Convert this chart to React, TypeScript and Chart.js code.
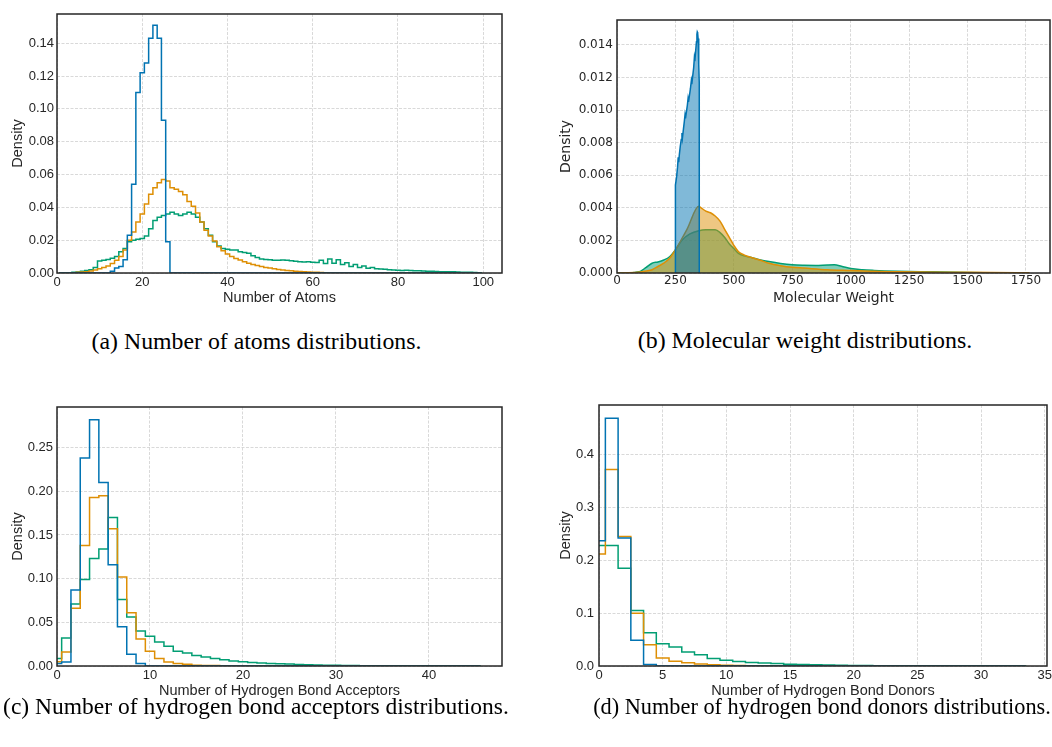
import React, { useEffect, useRef } from 'react';
import { Chart, registerables } from 'chart.js';

Chart.register(...registerables);

const BLUE = '#0173b2';
const ORANGE = '#de8f05';
const GREEN = '#029e73';
const TEXT = '#262626';

// ---------------- (a) Number of atoms (density, 1-atom bins centred on integers)
const ATOMS_RANGE = [0.5, 99.5];
const ATOMS_BLUE_FIRST = 13;
const ATOMS_BLUE = [0.001, 0.003, 0.004, 0.008, 0.023, 0.054, 0.11, 0.122, 0.128, 0.143, 0.151, 0.143, 0.093, 0.019];
const ATOMS_ORANGE_FIRST = 5;
const ATOMS_ORANGE = [
  0.0004, 0.0006, 0.0008, 0.0012, 0.0018, 0.0026, 0.0033, 0.0043, 0.0058, 0.0078, 0.01, 0.014,
  0.02, 0.025, 0.031, 0.036, 0.042, 0.048, 0.052, 0.055, 0.057, 0.056, 0.052, 0.051, 0.0497,
  0.0477, 0.0436, 0.0406, 0.0365, 0.031, 0.026, 0.0225, 0.0195, 0.016, 0.0135, 0.0115, 0.01,
  0.0088, 0.0079, 0.0068, 0.006, 0.0052, 0.0046, 0.004, 0.0034, 0.003, 0.0026, 0.0022, 0.0019,
  0.0015, 0.0013, 0.0011, 0.0009, 0.0008, 0.0006, 0.0005, 0.0004, 0.0003, 0.0002,
];
const ATOMS_GREEN_FIRST = 4;
const ATOMS_GREEN = [
  0.0004, 0.0006, 0.001, 0.0015, 0.002, 0.0034, 0.0073, 0.0078, 0.0082, 0.009, 0.01, 0.013, 0.015,
  0.019, 0.02, 0.0205, 0.021, 0.0225, 0.027, 0.032, 0.034, 0.035, 0.036, 0.037, 0.036, 0.035,
  0.036, 0.037, 0.036, 0.034, 0.031, 0.027, 0.023, 0.019, 0.0165, 0.015, 0.0145, 0.014, 0.014,
  0.013, 0.0125, 0.012, 0.0105, 0.0095, 0.0085, 0.0082, 0.008, 0.0077, 0.0078, 0.0079, 0.0077,
  0.0074, 0.0071, 0.0069, 0.0067, 0.0068, 0.0066, 0.0064, 0.0078, 0.0058, 0.0085, 0.006, 0.008,
  0.0052, 0.0062, 0.004, 0.0052, 0.0034, 0.0042, 0.0029, 0.0033, 0.0026, 0.0025, 0.0023, 0.002,
  0.0018, 0.0016, 0.0015, 0.0016, 0.0015, 0.0014, 0.0014, 0.0012, 0.0011, 0.001, 0.0009, 0.0008,
  0.0008, 0.0007, 0.0007, 0.0006, 0.0005, 0.0005, 0.0004, 0.0003, 0.0002,
];
const ATOMS_X_TICKS = [0, 20, 40, 60, 80, 100];
const ATOMS_Y_TICKS = [0, 0.02, 0.04, 0.06, 0.08, 0.1, 0.12, 0.14];

// ---------------- (b) Molecular weight (KDE)
const MW_BLUE_X = [249, 249, 251, 255, 259, 262, 264, 267, 271, 275, 278, 280, 284, 288, 291, 293, 297, 301, 304, 306, 310, 314, 318, 320, 324, 328, 331, 333, 337, 340, 342, 343.5, 345, 347, 349, 350.5, 352, 352];
const MW_BLUE_Y = [0, 0.005, 0.0054, 0.0059, 0.0065, 0.0071, 0.0068, 0.0073, 0.0078, 0.0082, 0.0086, 0.0083, 0.0088, 0.0093, 0.0097, 0.0095, 0.0099, 0.0103, 0.0107, 0.0105, 0.0109, 0.0113, 0.0118, 0.0116, 0.0121, 0.0126, 0.0132, 0.013, 0.0137, 0.0142, 0.01465, 0.0148, 0.01475, 0.0144, 0.0137, 0.0128, 0.0117, 0];
const MW_ORANGE_X = [0, 50, 100, 125, 150, 175, 200, 225, 249, 300, 350, 360, 380, 400, 420, 440, 460, 480, 500, 520, 545, 575, 610, 650, 700, 750, 800, 900, 1000, 1100, 1200, 1400, 1600, 1765];
const MW_ORANGE_Y = [0, 0.00001, 0.00006, 0.00012, 0.0002, 0.0004, 0.0006, 0.0009, 0.0014, 0.0027, 0.0041, 0.004, 0.0038, 0.0037, 0.0035, 0.0032, 0.0027, 0.0022, 0.0017, 0.0013, 0.0011, 0.00095, 0.0008, 0.0006, 0.00045, 0.00035, 0.0003, 0.0002, 0.00015, 0.0001, 0.00008, 0.00005, 0.00003, 0.00001];
const MW_GREEN_X = [0, 60, 80, 100, 125, 150, 175, 200, 225, 249, 277, 312, 350, 380, 420, 440, 460, 480, 500, 520, 545, 575, 610, 650, 700, 750, 800, 850, 900, 930, 960, 1000, 1050, 1100, 1200, 1300, 1400, 1500, 1600];
const MW_GREEN_Y = [0, 0, 0.00005, 0.0001, 0.00035, 0.0006, 0.00068, 0.0008, 0.001, 0.0014, 0.002, 0.0024, 0.0026, 0.00265, 0.00265, 0.0025, 0.0022, 0.0018, 0.0015, 0.0012, 0.00105, 0.00095, 0.00082, 0.0007, 0.00058, 0.0005, 0.00047, 0.00046, 0.00049, 0.0005, 0.00042, 0.00028, 0.0002, 0.00016, 0.00011, 0.00008, 0.00006, 0.00003, 0.00001];
const MW_X_TICKS = [0, 250, 500, 750, 1000, 1250, 1500, 1750];
const MW_Y_TICKS = [0, 0.002, 0.004, 0.006, 0.008, 0.01, 0.012, 0.014];

// ---------------- (c) Hydrogen bond acceptors (bins centred on integers, first bin = 0)
const HBA_RANGE = [-0.5, 45.5];
const HBA_BLUE = [0.003, 0.0046, 0.087, 0.238, 0.282, 0.21, 0.116, 0.045, 0.0134, 0.003];
const HBA_ORANGE = [0.005, 0.016, 0.066, 0.138, 0.193, 0.195, 0.157, 0.102, 0.061, 0.031, 0.017, 0.0085, 0.0046, 0.003, 0.002, 0.001, 0.0006, 0.0005, 0.0004];
const HBA_GREEN = [
  0.0085, 0.032, 0.071, 0.099, 0.123, 0.134, 0.17, 0.076, 0.056, 0.04, 0.034, 0.0275, 0.0225, 0.017,
  0.015, 0.012, 0.0103, 0.0085, 0.0072, 0.0057, 0.0048, 0.004, 0.0035, 0.003, 0.0026, 0.0022, 0.0018,
  0.0015, 0.0012, 0.001, 0.0008, 0.0006, 0.0005, 0.0004, 0.0003, 0.0003, 0.0002, 0.0002, 0.0001,
  0.0001, 0.0001, 0.0001, 0.00005, 0.00005, 0.00005, 0.00005,
];
const HBA_X_TICKS = [0, 10, 20, 30, 40];
const HBA_Y_TICKS = [0, 0.05, 0.1, 0.15, 0.2, 0.25];

// ---------------- (d) Hydrogen bond donors
const HBD_RANGE = [-0.5, 33.5];
const HBD_BLUE = [0.237, 0.469, 0.242, 0.0486, 0.003];
const HBD_ORANGE = [0.212, 0.372, 0.245, 0.1, 0.04, 0.015, 0.0088, 0.006, 0.004, 0.0025, 0.0015, 0.001, 0.0007, 0.0005, 0.0003, 0.0002, 0.0001];
const HBD_GREEN = [
  0.228, 0.228, 0.185, 0.105, 0.063, 0.042, 0.036, 0.0265, 0.0215, 0.014, 0.0108, 0.0085, 0.0065,
  0.0055, 0.0045, 0.0035, 0.003, 0.0023, 0.0018, 0.0014, 0.0011, 0.0009, 0.0007, 0.0006, 0.0005,
  0.0004, 0.0003, 0.0003, 0.0002, 0.0002, 0.0001, 0.0001, 0.0001, 0.0001,
];
const HBD_X_TICKS = [0, 5, 10, 15, 20, 25, 30, 35];
const HBD_Y_TICKS = [0, 0.1, 0.2, 0.3, 0.4];

const CAPTIONS = [
  { text: '(a) Number of atoms distributions.', cx: 256.5, baseline: 349.5, size: 23.8 },
  { text: '(b) Molecular weight distributions.', cx: 805, baseline: 349.5, size: 23.9 },
  { text: '(c) Number of hydrogen bond acceptors distributions.', cx: 256, baseline: 714.5, size: 23.5 },
  { text: '(d) Number of hydrogen bond donors distributions.', cx: 822, baseline: 714.5, size: 22.3 },
];

type Pt = { x: number; y: number };

function stepOutline(first: number, values: number[], range: number[]): Pt[] {
  const e0 = first - 0.5;
  const pts: Pt[] = [{ x: range[0], y: 0 }, { x: e0, y: 0 }];
  values.forEach((v, i) => {
    pts.push({ x: e0 + i, y: v }, { x: e0 + i + 1, y: v });
  });
  pts.push({ x: e0 + values.length, y: 0 }, { x: range[1], y: 0 });
  return pts;
}

function zipPts(xs: number[], ys: number[]): Pt[] {
  return xs.map((x, i) => ({ x, y: ys[i] }));
}

function histSet(data: Pt[], color: string) {
  return { data, borderColor: color, borderWidth: 1.5, pointRadius: 0, fill: false, tension: 0 };
}

function kdeSet(data: Pt[], color: string, fillColor: string, smooth: boolean) {
  return {
    data,
    borderColor: color,
    borderWidth: 1.5,
    pointRadius: 0,
    fill: 'origin',
    backgroundColor: fillColor,
    tension: smooth ? 0.4 : 0,
    cubicInterpolationMode: smooth ? 'monotone' : 'default',
  };
}

type Geo = {
  left: number; top: number; w: number; h: number;
  L: number; T: number; R: number; B: number;
  yTitleX: number; xTitleY: number;
  tickPadX: number; tickPadY: number;
};

type AxisSpec = { min: number; max: number; ticks: number[]; decimals: number; title: string };

const framePlugin = {
  id: 'frame',
  afterDraw(chart: any) {
    const { ctx, chartArea: a } = chart;
    ctx.save();
    ctx.strokeStyle = TEXT;
    ctx.lineWidth = 1.5;
    ctx.strokeRect(a.left, a.top, a.right - a.left, a.bottom - a.top);
    ctx.restore();
  },
};

function buildScale(ax: AxisSpec, horizontal: boolean, size: number, family: string, tickSize: number,
  titleSize: number, tickPad: number, titlePad: number) {
  return {
    type: 'linear',
    min: ax.min,
    max: ax.max,
    afterBuildTicks: (scale: any) => {
      scale.ticks = ax.ticks.map((v) => ({ value: v }));
    },
    afterFit: (scale: any) => {
      if (horizontal) scale.height = size;
      else scale.width = size;
      scale.paddingLeft = 0;
      scale.paddingRight = 0;
      scale.paddingTop = 0;
      scale.paddingBottom = 0;
    },
    ticks: {
      autoSkip: false,
      maxRotation: 0,
      minRotation: 0,
      padding: tickPad,
      color: TEXT,
      font: { family, size: tickSize, lineHeight: 1.2 },
      callback: (v: any) => Number(v).toFixed(ax.decimals),
    },
    grid: { color: '#cfcfcf', lineWidth: 0.8, drawTicks: false },
    border: { display: false, dash: [3, 1.5] },
    title: {
      display: true,
      text: ax.title,
      color: TEXT,
      font: { family, size: titleSize, lineHeight: 1.2 },
      padding: horizontal ? { top: 0, bottom: titlePad } : { top: titlePad, bottom: 0 },
    },
  };
}

function Panel(props: { geo: Geo; datasets: any[]; x: AxisSpec; y: AxisSpec; family: string; tickSize: number; titleSize: number }) {
  const ref = useRef<HTMLCanvasElement>(null);
  useEffect(() => {
    const { geo, datasets, x, y, family, tickSize, titleSize } = props;
    const half = (titleSize * 1.2) / 2;
    const chart = new Chart(ref.current as HTMLCanvasElement, {
      type: 'line',
      data: { datasets },
      options: {
        animation: false,
        responsive: false,
        events: [],
        layout: {
          padding: { left: 0, top: geo.T - geo.top, right: geo.left + geo.w - geo.R, bottom: 0 },
        },
        plugins: { legend: { display: false }, tooltip: { enabled: false } },
        scales: {
          x: buildScale(x, true, geo.top + geo.h - geo.B, family, tickSize, titleSize, geo.tickPadX,
            geo.top + geo.h - geo.xTitleY - half),
          y: buildScale(y, false, geo.L - geo.left, family, tickSize, titleSize, geo.tickPadY,
            geo.yTitleX - geo.left - half),
        },
      } as any,
      plugins: [framePlugin],
    } as any);
    return () => chart.destroy();
  }, []);
  const g = props.geo;
  return (
    <canvas
      ref={ref}
      width={g.w}
      height={g.h}
      style={{ position: 'absolute', left: g.left, top: g.top, width: g.w, height: g.h }}
    />
  );
}

const GEO_A: Geo = { left: 0, top: 0, w: 520, h: 320, L: 57, T: 14, R: 502, B: 273, yTitleX: 17.5, xTitleY: 298, tickPadX: 2, tickPadY: 3 };
const GEO_B: Geo = { left: 540, top: 0, w: 512, h: 320, L: 617, T: 20, R: 1050, B: 273, yTitleX: 566, xTitleY: 298.5, tickPadX: 1, tickPadY: 4 };
const GEO_C: Geo = { left: 0, top: 380, w: 520, h: 340, L: 57, T: 407, R: 502, B: 666, yTitleX: 17.5, xTitleY: 690.5, tickPadX: 1.5, tickPadY: 4 };
const GEO_D: Geo = { left: 540, top: 380, w: 512, h: 340, L: 599, T: 405, R: 1047, B: 666, yTitleX: 566, xTitleY: 690.5, tickPadX: 1.5, tickPadY: 5 };

export default function App() {
  const aSets = [
    histSet(stepOutline(ATOMS_BLUE_FIRST, ATOMS_BLUE, ATOMS_RANGE), BLUE),
    histSet(stepOutline(ATOMS_ORANGE_FIRST, ATOMS_ORANGE, ATOMS_RANGE), ORANGE),
    histSet(stepOutline(ATOMS_GREEN_FIRST, ATOMS_GREEN, ATOMS_RANGE), GREEN),
  ];
  const bSets = [
    kdeSet(zipPts(MW_BLUE_X, MW_BLUE_Y), BLUE, 'rgba(1,115,178,0.5)', false),
    kdeSet(zipPts(MW_ORANGE_X, MW_ORANGE_Y), ORANGE, 'rgba(222,143,5,0.5)', true),
    kdeSet(zipPts(MW_GREEN_X, MW_GREEN_Y), GREEN, 'rgba(2,158,115,0.5)', true),
  ];
  const cSets = [
    histSet(stepOutline(0, HBA_BLUE, HBA_RANGE), BLUE),
    histSet(stepOutline(0, HBA_ORANGE, HBA_RANGE), ORANGE),
    histSet(stepOutline(0, HBA_GREEN, HBA_RANGE), GREEN),
  ];
  const dSets = [
    histSet(stepOutline(0, HBD_BLUE, HBD_RANGE), BLUE),
    histSet(stepOutline(0, HBD_ORANGE, HBD_RANGE), ORANGE),
    histSet(stepOutline(0, HBD_GREEN, HBD_RANGE), GREEN),
  ];
  const sans = 'Liberation Sans';
  return (
    <div style={{ position: 'absolute', left: 0, top: 0, width: 1052, height: 747, background: '#fff', overflow: 'hidden' }}>
      <Panel geo={GEO_A} datasets={aSets} family={sans} tickSize={13} titleSize={14.5}
        x={{ min: 0, max: 104.4, ticks: ATOMS_X_TICKS, decimals: 0, title: 'Number of Atoms' }}
        y={{ min: 0, max: 0.1578, ticks: ATOMS_Y_TICKS, decimals: 2, title: 'Density' }} />
      <Panel geo={GEO_B} datasets={bSets} family="DejaVu Sans" tickSize={12} titleSize={14}
        x={{ min: 0, max: 1852.8, ticks: MW_X_TICKS, decimals: 0, title: 'Molecular Weight' }}
        y={{ min: 0, max: 0.015535, ticks: MW_Y_TICKS, decimals: 3, title: 'Density' }} />
      <Panel geo={GEO_C} datasets={cSets} family={sans} tickSize={13} titleSize={14.5}
        x={{ min: 0, max: 47.85, ticks: HBA_X_TICKS, decimals: 0, title: 'Number of Hydrogen Bond Acceptors' }}
        y={{ min: 0, max: 0.2965, ticks: HBA_Y_TICKS, decimals: 2, title: 'Density' }} />
      <Panel geo={GEO_D} datasets={dSets} family={sans} tickSize={13} titleSize={14.5}
        x={{ min: 0, max: 35.18, ticks: HBD_X_TICKS, decimals: 0, title: 'Number of Hydrogen Bond Donors' }}
        y={{ min: 0, max: 0.4939, ticks: HBD_Y_TICKS, decimals: 1, title: 'Density' }} />
      {CAPTIONS.map((c) => (
        <div
          key={c.text}
          style={{
            position: 'absolute',
            left: c.cx,
            top: c.baseline - 0.838 * c.size,
            transform: 'translateX(-50%)',
            whiteSpace: 'nowrap',
            fontFamily: '"Liberation Serif", "Times New Roman", serif',
            fontSize: c.size,
            lineHeight: 1,
            color: '#000',
          }}
        >
          {c.text}
        </div>
      ))}
    </div>
  );
}
